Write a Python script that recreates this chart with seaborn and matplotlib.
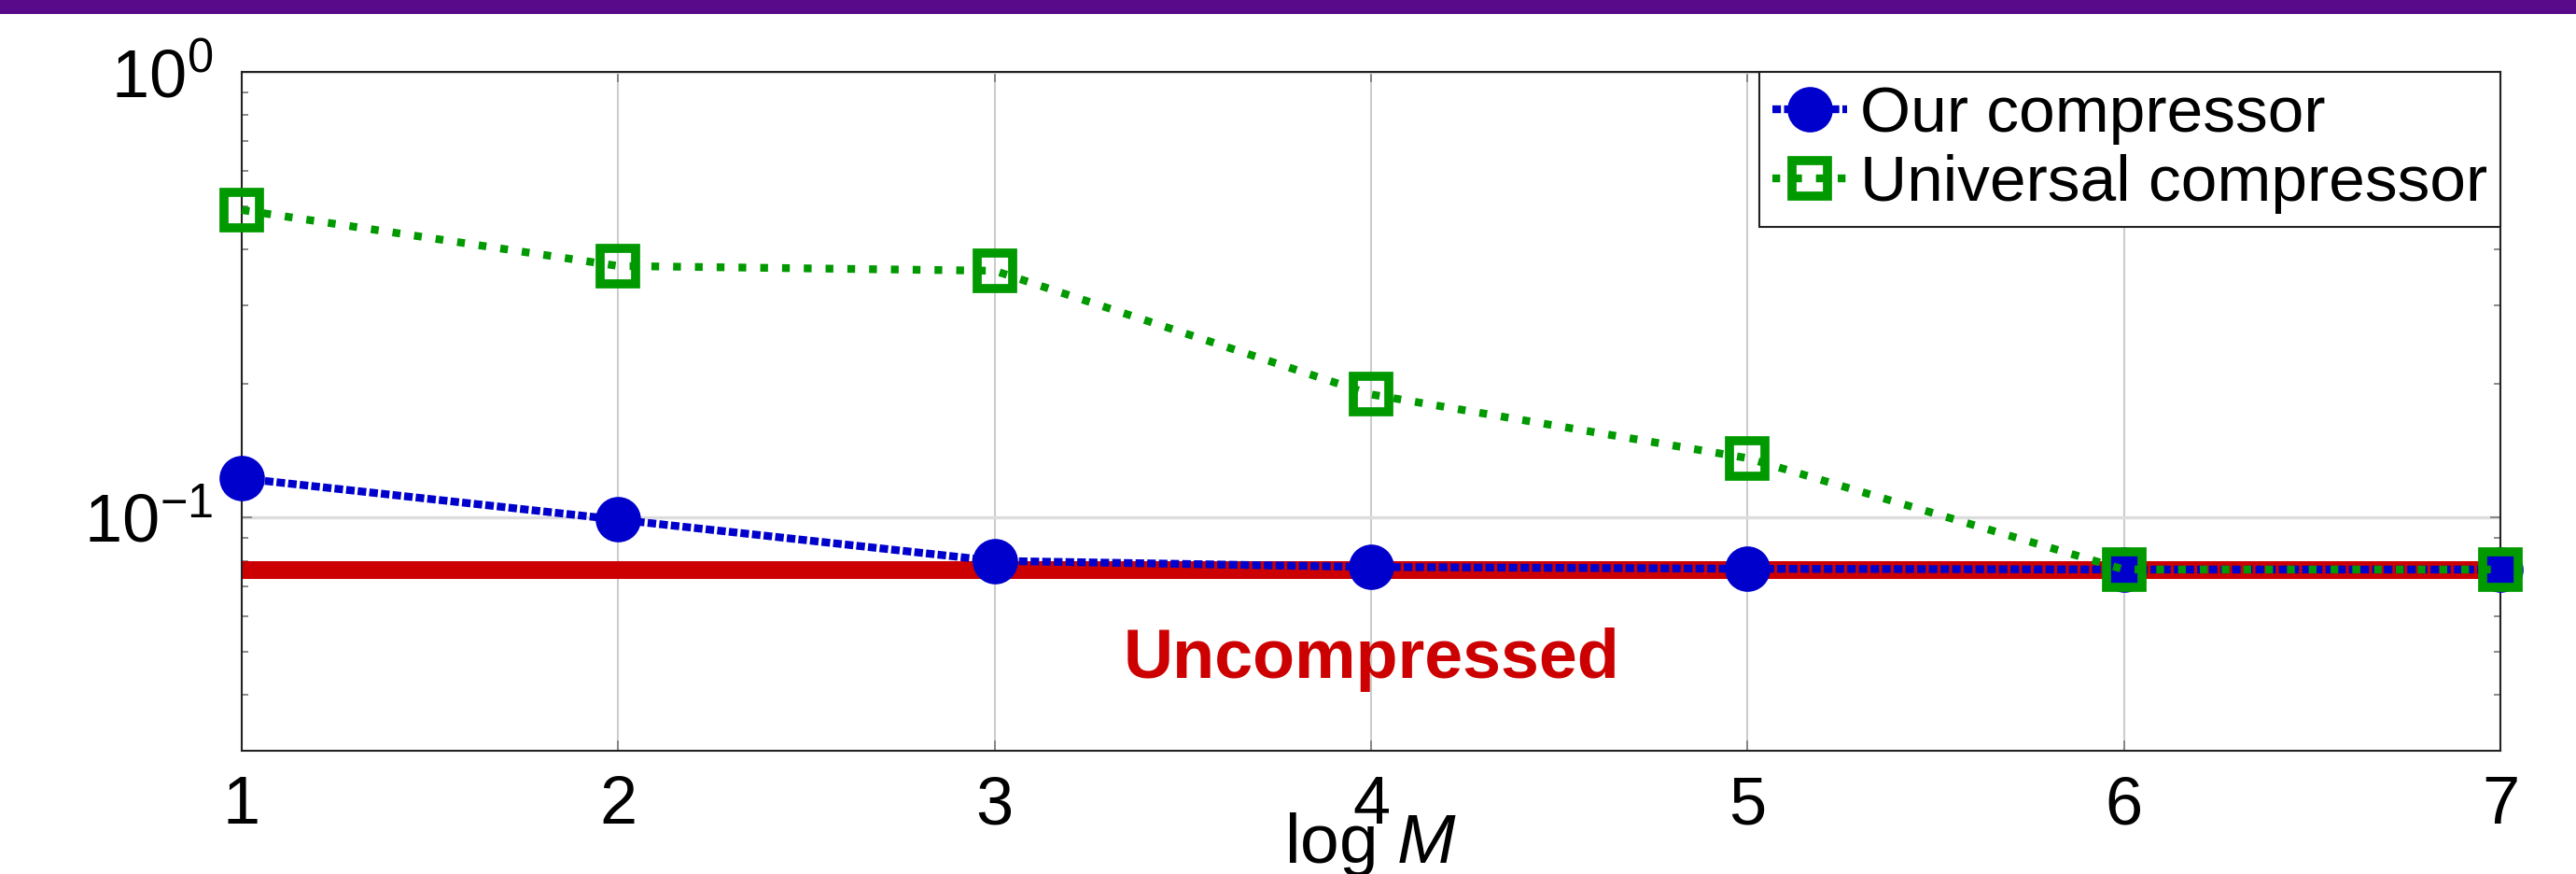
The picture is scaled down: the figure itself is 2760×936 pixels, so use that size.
import numpy as np
import pandas as pd
import seaborn as sns
import matplotlib.pyplot as plt
from matplotlib.patches import Rectangle
from matplotlib.ticker import LogLocator, NullFormatter

# values
log_m = [1, 2, 3, 4, 5, 6, 7]
ours = [0.1225, 0.0990, 0.0800, 0.0775, 0.0768, 0.0765, 0.0765]
universal = [0.490, 0.367, 0.358, 0.189, 0.136, 0.0765, 0.0765]
uncompressed = 0.0764

blue = '#0000cc'
green = '#009900'
red = '#cc0000'
purple = '#580a8a'

sns.set_style('ticks')
plt.rcParams['font.family'] = ['Liberation Sans', 'DejaVu Sans']
plt.rcParams['mathtext.fontset'] = 'custom'
plt.rcParams['mathtext.rm'] = 'Liberation Sans'
plt.rcParams['mathtext.it'] = 'Liberation Sans:italic'
plt.rcParams['mathtext.bf'] = 'Liberation Sans:bold'
plt.rcParams['font.size'] = 52
for k in ['text.color', 'axes.labelcolor', 'xtick.labelcolor', 'ytick.labelcolor']:
    plt.rcParams[k] = 'black'

W, H = 2760, 936
fig = plt.figure(figsize=(W / 100, H / 100), dpi=100)
ax = fig.add_axes([259 / W, 1 - 804 / H, (2679 - 259) / W, (804 - 77) / H])

df = pd.DataFrame({'log M': log_m, 'ours': ours, 'universal': universal,
                   'uncompressed': [uncompressed] * len(log_m)})

sns.lineplot(data=df, x='log M', y='uncompressed', color=red, lw=13.7,
             solid_capstyle='butt', ax=ax, zorder=2, clip_on=False)
sns.lineplot(data=df, x='log M', y='ours', color=blue, lw=6,
             linestyle=(0, (1.1, 0.4)), marker='o', markersize=35,
             markeredgewidth=0, markeredgecolor=blue, ax=ax, zorder=3,
             clip_on=False, label='Our compressor')
sns.lineplot(data=df, x='log M', y='universal', color=green, lw=6,
             linestyle=(0, (1.0, 1.8)), marker='s', markersize=27,
             markeredgewidth=7, markeredgecolor=green, markerfacecolor='none',
             ax=ax, zorder=4, clip_on=False, label='Universal compressor')

ax.set_yscale('log')
ax.set_ylim(0.03, 1)
ax.set_xlim(min(log_m), max(log_m))
ax.set_xticks(log_m)
ax.yaxis.set_major_locator(LogLocator(base=10))
ax.yaxis.set_minor_locator(LogLocator(base=10, subs=np.arange(2, 10)))
ax.yaxis.set_minor_formatter(NullFormatter())

ax.grid(axis='x', which='major', color='#cccccc', lw=1.5)
ax.grid(axis='y', which='major', color='#dddddd', lw=2.5)
ax.set_axisbelow(True)

ax.tick_params(which='both', direction='in', top=True, right=True, color='#808080')
ax.tick_params(which='major', length=8, width=1.3)
ax.tick_params(which='minor', length=5, width=1.3)
ax.tick_params(axis='x', pad=19)
ax.tick_params(axis='y', pad=22)
for sp in ax.spines.values():
    sp.set_color('#222222')
    sp.set_linewidth(1.5)

ax.set_ylabel('')
ax.set_xlabel('log $M$', fontsize=54)
ax.xaxis.set_label_coords(0.5, -0.165)
ax.xaxis.label.set_va('baseline')

ax.text(4, 0.0438, 'Uncompressed', color=red, fontweight='bold', fontsize=53,
        ha='center', va='baseline')

ax.legend(loc='upper right', borderaxespad=0, fancybox=False, edgecolor='#222222',
          framealpha=1, handlelength=1.15, handletextpad=0.2, borderpad=0.2,
          labelspacing=0.15, fontsize=50)
ax.get_legend().get_frame().set_linewidth(1.5)

fig.add_artist(Rectangle((0, 1 - 15 / H), 1, 15 / H, transform=fig.transFigure,
                         color=purple, lw=0))

fig.savefig('out.png', dpi=100)
